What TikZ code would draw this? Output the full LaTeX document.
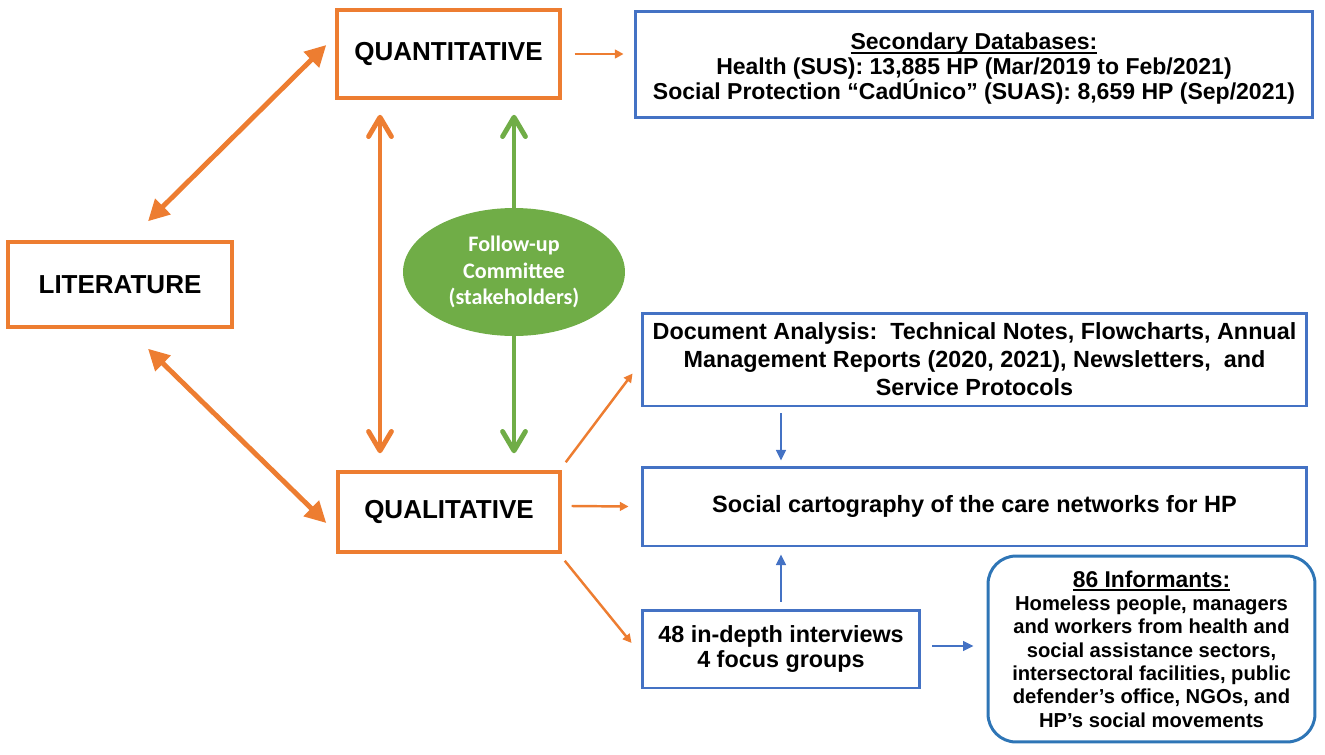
\documentclass[tikz,border=0pt]{standalone}
\usepackage{fontspec}
\setmainfont{Liberation Sans}
\newfontfamily\calibrifont{Carlito}
\usepackage{xcolor}
\usetikzlibrary{shapes.geometric, arrows.meta, positioning, calc}

\definecolor{qorange}{HTML}{ED7D31}
\definecolor{qblue}{HTML}{4472C4}
\definecolor{qdarkblue}{HTML}{2E75B6}
\definecolor{qgreen}{HTML}{70AD47}
\setlength{\lineskiplimit}{-20pt}
% underline set close to the baseline
\newcommand{\undertext}[1]{\setbox0=\hbox{#1}\rlap{\rule[-2.2pt]{\wd0}{0.9pt}}\box0}

\begin{document}
\begin{tikzpicture}[x=0.02cm, y=-0.02cm,
  tri/.tip={Triangle[length=12pt, width=12pt]},
  chev/.tip={Straight Barb[round, length=11pt, width=13pt]},
  small/.tip={Triangle[length=5pt, width=5pt]},
  bsmall/.tip={Triangle[length=6pt, width=5.5pt]},
  methodbox/.style={draw=qorange, line width=2pt, fill=white, inner sep=0pt,
    font=\fontsize{14.8}{17}\selectfont\bfseries},
  sourcebox/.style={draw=qblue, line width=1.7pt, fill=white, inner sep=0pt, align=center},
  bigarrow/.style={qorange, line width=2.8pt},
  thinarrow/.style={qorange, line width=1.4pt, -small},
  bluearrow/.style={qblue, line width=1.4pt, -bsmall}]
  \useasboundingbox (0,0) rectangle (1325,754);

  % Method boxes
  \node[methodbox, minimum width=4.48cm, minimum height=1.70cm] (lit) at (120,284.5) {LITERATURE};
  \node[methodbox, minimum width=4.46cm, minimum height=1.76cm] (quant) at (448.5,54) {\raisebox{-2pt}{QUANTITATIVE}};
  \node[methodbox, minimum width=4.44cm, minimum height=1.60cm] (qual) at (449,512) {\raisebox{-2pt}{QUALITATIVE}};

  % Follow-up committee
  \node[ellipse, fill=qgreen, text=white, minimum width=4.44cm, minimum height=2.56cm,
        inner sep=0pt, align=center, font=\calibrifont\fontsize{12.6}{15.3}\selectfont\bfseries]
        (comm) at (514,272) {Follow-up\\Committee\\(stakeholders)};

  % Data sources
  \node[sourcebox, minimum width=13.56cm, minimum height=2.12cm,
        font=\fontsize{13.1}{14}\selectfont\bfseries] (sec) at (974,64.5)
        {\rule{0pt}{14pt}\undertext{Secondary Databases:}\\
         Health (SUS): 13,885 HP (Mar/2019 to Feb/2021)\\
         Social Protection “CadÚnico” (SUAS): 8,659 HP (Sep/2021)};
  \node[sourcebox, minimum width=13.30cm, minimum height=1.86cm,
        font=\fontsize{13.3}{15.9}\selectfont\bfseries] (doc) at (974.5,359.5)
        {Document Analysis:\ \ Technical Notes, Flowcharts, Annual\\
         Management Reports (2020, 2021), Newsletters,\ \ and\\
         Service Protocols};
  \node[sourcebox, minimum width=13.30cm, minimum height=1.58cm,
        font=\fontsize{13.4}{15}\selectfont\bfseries] (cart) at (974.5,506.5)
        {Social cartography of the care networks for HP};
  \node[sourcebox, minimum width=5.56cm, minimum height=1.56cm,
        font=\fontsize{13.3}{14.7}\selectfont\bfseries] (intv) at (781,649)
        {48 in-depth interviews\\4 focus groups};
  \node[draw=qdarkblue, line width=1.7pt, rounded corners=0.56cm, inner sep=0pt, align=center,
        minimum width=6.54cm, minimum height=3.72cm,
        font=\fontsize{11.5}{13.3}\selectfont\bfseries] (inf) at (1151.5,649)
        {{\fontsize{13}{13.3}\selectfont\undertext{86 Informants:}}\\
         Homeless people, managers\\
         and workers from health and\\
         social assistance sectors,\\
         intersectoral facilities, public\\
         defender’s office, NGOs, and\\
         HP’s social movements};

  % Thick double arrows
  \draw[bigarrow, tri-tri] ($(lit.north)+(28,-19)$) -- ($(quant.west)+(-9,-9)$);
  \draw[bigarrow, tri-tri] ($(lit.south)+(28,20)$) -- ($(qual.west)+(-10,11)$);
  \draw[bigarrow, chev-chev] ($(quant.south)+(-68.5,15)$) -- ($(qual.north)+(-69,-17)$);
  \coordinate (qtip) at ($(quant.south)+(0,15)$);
  \coordinate (ltip) at ($(qual.north)+(0,-17)$);
  \draw[qgreen, line width=2.8pt, -chev] (comm.north) -- (comm.north |- qtip);
  \draw[qgreen, line width=2.8pt, -chev] (comm.south) -- (comm.south |- ltip);

  % Thin arrows to sources
  \draw[thinarrow] ($(quant.east)+(13,0)$) -- ($(sec.west |- quant.east)+(-10,0)$);
  \draw[thinarrow] ($(qual.north east)+(4,-8)$) -- ($(doc.south west)+(-8,-34)$);
  \draw[thinarrow] ($(qual.east)+(10,-6)$) -- ($(cart.west)+(-12,0)$);
  \draw[thinarrow] ($(qual.south east)+(3,7)$) -- ($(intv.west)+(-9,-6)$);

  % Blue arrows
  \draw[bluearrow] ($(doc.south -| intv.north)+(0,6)$) -- ($(cart.north -| intv.north)+(0,-5)$);
  \draw[bluearrow] ($(intv.north)+(0,-7)$) -- ($(cart.south -| intv.north)+(0,7)$);
  \draw[bluearrow] ($(intv.east)+(11,-3)$) -- ($(inf.west)+(-13,-3)$);
\end{tikzpicture}
\end{document}
